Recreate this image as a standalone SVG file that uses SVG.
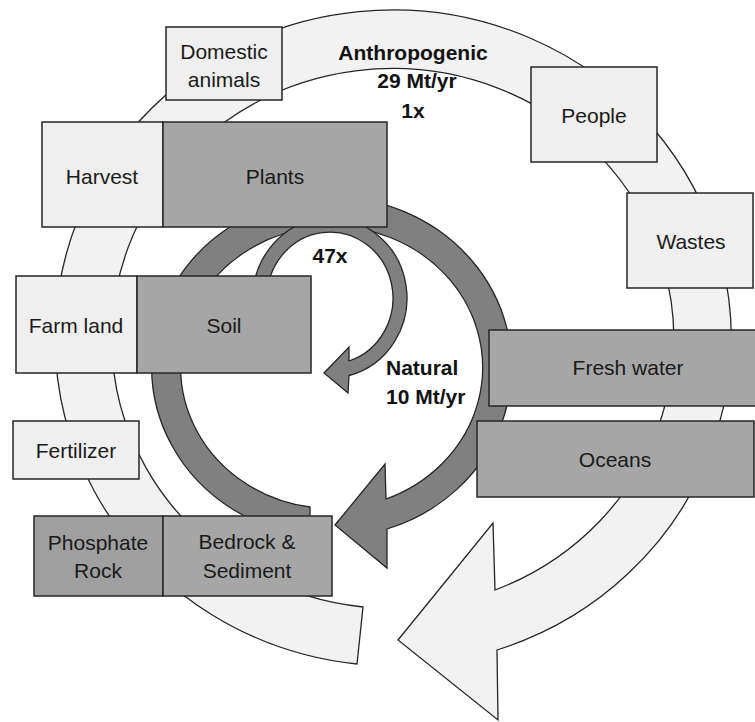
<svg xmlns="http://www.w3.org/2000/svg" width="755" height="722" viewBox="0 0 755 722">
<style>
.bl{fill:#efefef;stroke:#262626;stroke-width:1.5}
.bd{fill:#a6a6a6;stroke:#262626;stroke-width:1.5}
.bp{fill:#9f9f9f;stroke:#262626;stroke-width:1.5}
.al{fill:#f2f2f2;stroke:#262626;stroke-width:1.3;stroke-linejoin:miter}
.ad{fill:#808080;stroke:#262626;stroke-width:1.3;stroke-linejoin:miter}
text{font-family:"Liberation Sans",Arial,sans-serif;font-size:21px;fill:#1a1a1a;text-anchor:middle}
.b{font-weight:bold;fill:#111}
</style>
<rect width="755" height="722" fill="#fff"/>
<g id="connectors">
<path id="anthropogenic-cycle" class="al" d="M357,664 A338,328 0 1 1 497,650 L498,720 L398,640 L493,523 L495,590 A281,270 0 1 0 363,607 Z"/>
<path id="natural-cycle" class="ad" d="M310,536 A180,170 0 1 1 387,529 L387,568 L335,525 L385,464 L386,499 A151,141 0 1 0 310,507 Z"/>
<path id="soil-plant-loop" class="ad" d="M253,300 A77,80 0 1 1 349,375.5 L348,393 L324,373 L349,347 L349,361 A63,66 0 1 0 267,300 Z"/>
</g>
<g id="domestic-animals"><rect class="bl" x="166" y="27" width="116" height="73"/><text x="224" y="59">Domestic</text><text x="224" y="87">animals</text></g>
<g id="people"><rect class="bl" x="531" y="67" width="126" height="95"/><text x="594" y="123">People</text></g>
<g id="harvest"><rect class="bl" x="42" y="122" width="121" height="105"/><text x="102" y="184">Harvest</text></g>
<g id="plants"><rect class="bd" x="163" y="122" width="224" height="105"/><text x="275" y="184">Plants</text></g>
<g id="wastes"><rect class="bl" x="627" y="193" width="126" height="95"/><text x="691" y="249">Wastes</text></g>
<g id="farm-land"><rect class="bl" x="16" y="276" width="121" height="97"/><text x="76" y="333">Farm land</text></g>
<g id="soil"><rect class="bd" x="137" y="276" width="174" height="97"/><text x="224" y="333">Soil</text></g>
<g id="fresh-water"><rect class="bd" x="489" y="330" width="270" height="76"/><text x="628" y="375">Fresh water</text></g>
<g id="oceans"><rect class="bd" x="477" y="421" width="277" height="76"/><text x="615" y="467">Oceans</text></g>
<g id="fertilizer"><rect class="bl" x="13" y="421" width="126" height="58"/><text x="76" y="458">Fertilizer</text></g>
<g id="phosphate-rock"><rect class="bp" x="34" y="516" width="129" height="80"/><text x="98" y="550">Phosphate</text><text x="98" y="578">Rock</text></g>
<g id="bedrock-sediment"><rect class="bd" x="163" y="516" width="169" height="80"/><text x="247" y="549">Bedrock &amp;</text><text x="247" y="578">Sediment</text></g>
<g id="labels">
<text class="b" x="413" y="60">Anthropogenic</text>
<text class="b" x="417" y="88">29 Mt/yr</text>
<text class="b" x="413" y="118">1x</text>
<text class="b" x="330" y="263">47x</text>
<text class="b" x="386" y="375" style="text-anchor:start">Natural</text>
<text class="b" x="386" y="404" style="text-anchor:start">10 Mt/yr</text>
</g>
</svg>
